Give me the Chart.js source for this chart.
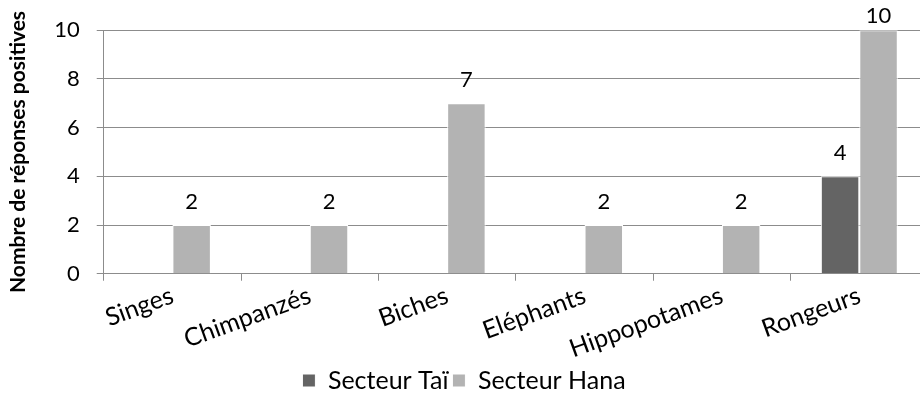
<!DOCTYPE html>
<html>
<head>
<meta charset="utf-8">
<script src="https://cdn.jsdelivr.net/npm/chart.js@4/dist/chart.umd.min.js"></script>
<style>
  html, body { margin: 0; padding: 0; background: #fff; overflow: hidden; }
  #wrap { width: 928px; height: 403px; }
</style>
</head>
<body>
<div id="wrap"><canvas id="chart"></canvas></div>
<script>
// categories and values
var animaux = ["Singes", "Chimpanzés", "Biches", "Eléphants", "Hippopotames", "Rongeurs"];
var secteurTai = [null, null, null, null, null, 4];
var secteurHana = [2, 2, 7, 2, 2, 10];
var yTicks = [0, 2, 4, 6, 8, 10];

var police = "Lato, 'Open Sans', sans-serif";

// valeurs au-dessus des barres, comme dans Excel
var etiquettes = {
  id: "etiquettes",
  afterDatasetsDraw: function (chart) {
    var ctx = chart.ctx;
    ctx.save();
    ctx.font = "22px " + police;
    ctx.fillStyle = "#000";
    ctx.textAlign = "center";
    ctx.textBaseline = "alphabetic";
    chart.data.datasets.forEach(function (ds, i) {
      var meta = chart.getDatasetMeta(i);
      meta.data.forEach(function (bar, j) {
        var v = ds.data[j];
        if (v === null) return;
        var y = Math.max(bar.y - 16, 23);
        ctx.fillText(String(v), bar.x, y);
      });
    });
    ctx.restore();
  }
};

var mychart = document.getElementById("chart").getContext("2d");
var chart = new Chart(mychart, {
  type: "bar",
  data: {
    labels: animaux,
    datasets: [
      {
        label: "Secteur Taï",
        data: secteurTai,
        backgroundColor: "#646464",
        borderColor: "#ffffff",
        borderWidth: 1,
        categoryPercentage: 0.56,
        barPercentage: 1
      },
      {
        label: "Secteur Hana",
        data: secteurHana,
        backgroundColor: "#b3b3b3",
        borderColor: "#ffffff",
        borderWidth: 1,
        categoryPercentage: 0.56,
        barPercentage: 1
      }
    ]
  },
  options: {
    responsive: true,
    maintainAspectRatio: false,
    animation: false,
    layout: { padding: { top: 10, left: 0, right: 0, bottom: 0 } },
    plugins: {
      legend: {
        position: "bottom",
        labels: {
          font: { family: police, size: 25 },
          color: "#000",
          boxWidth: 13,
          boxHeight: 13,
          padding: 4
        }
      },
      tooltip: { enabled: false }
    },
    scales: {
      x: {
        grid: { drawOnChartArea: false, tickLength: 7, color: "#8c8c8c" },
        border: { color: "#8c8c8c" },
        ticks: {
          font: { family: police, size: 25 },
          color: "#000",
          minRotation: 20,
          maxRotation: 20,
          padding: 0
        }
      },
      y: {
        min: 0,
        max: 10,
        afterBuildTicks: function (axis) {
          axis.ticks = yTicks.map(function (v) { return { value: v }; });
        },
        grid: { color: "#8c8c8c", tickLength: 7 },
        border: { color: "#8c8c8c" },
        ticks: {
          font: { family: police, size: 22 },
          color: "#000",
          padding: 17
        },
        title: {
          display: true,
          text: "Nombre de réponses positives",
          font: { family: police, size: 21, weight: "bold" },
          color: "#000",
          padding: 6
        }
      }
    }
  },
  plugins: [etiquettes]
});
</script>
</body>
</html>
